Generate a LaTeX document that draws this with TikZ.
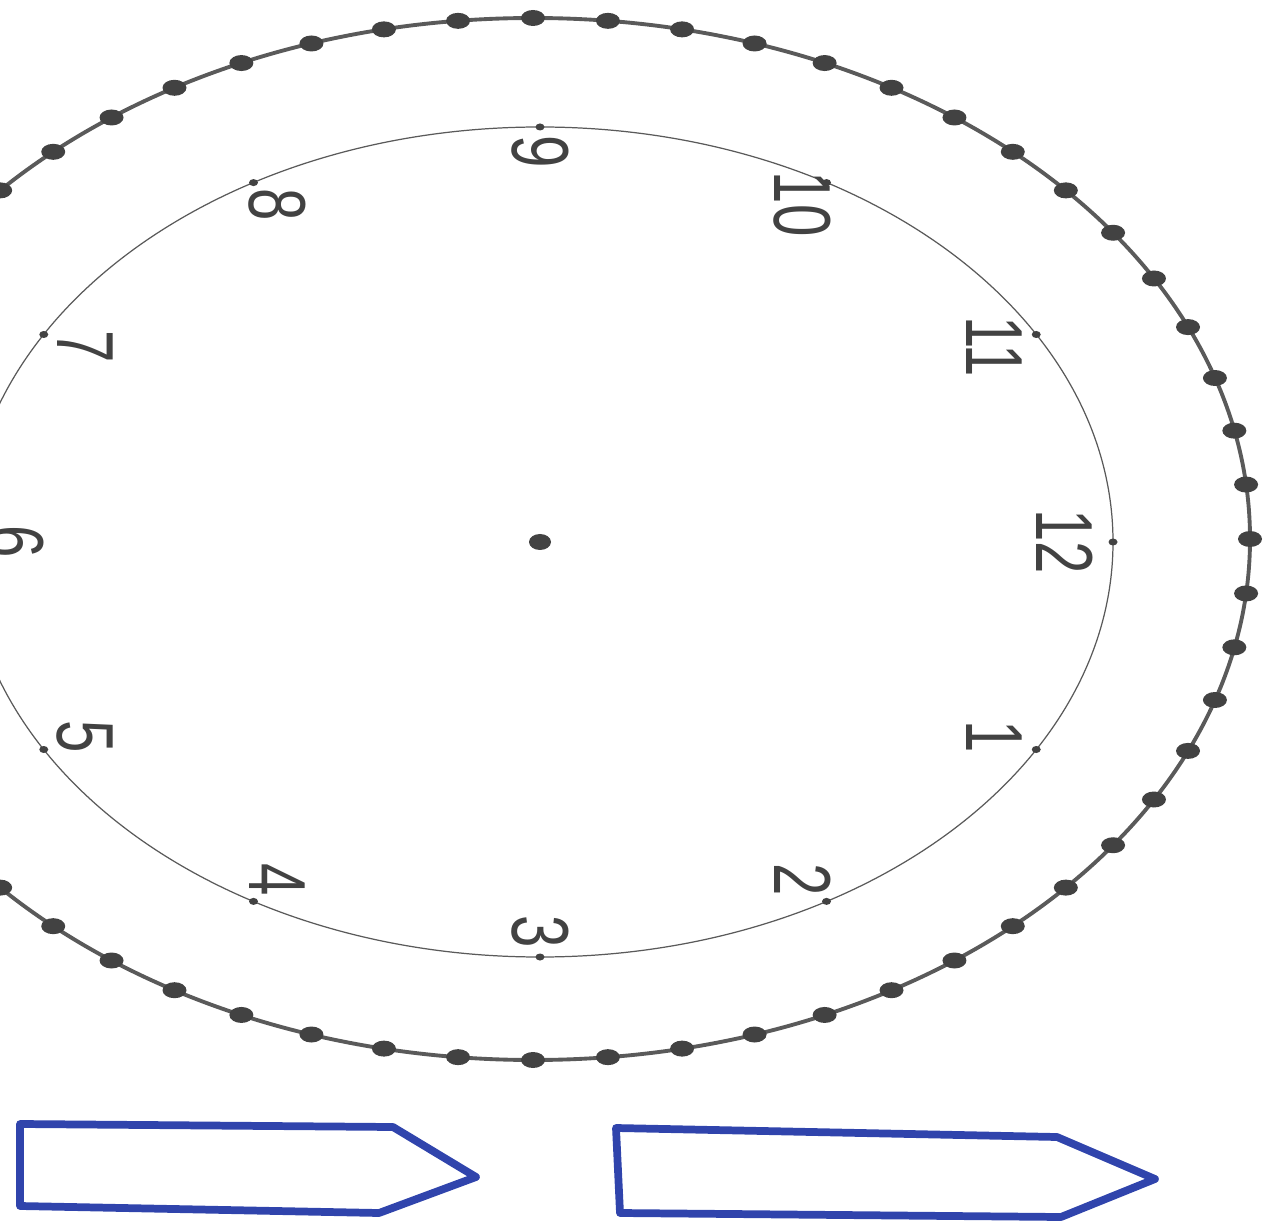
\documentclass[tikz,border=0pt]{standalone}
\usepackage{fontspec}
\newfontfamily\clockfont{Liberation Sans}
\definecolor{inkgray}{RGB}{66,66,66}
\definecolor{ringgray}{RGB}{90,90,90}
\definecolor{penblue}{RGB}{48,68,172}
\begin{document}
\begin{tikzpicture}[x=0.01cm,y=-0.01cm,
  ringline/.style={draw=ringgray,line width=1.1pt},
  faceline/.style={draw=ringgray,line width=0.35pt},
  minutedot/.style={fill=inkgray},
  hourdot/.style={fill=inkgray},
  hournum/.style={inner sep=0pt,rotate=-90,text=inkgray,font=\clockfont\fontsize{23}{23}\selectfont},
  pencil/.style={draw=penblue,line width=2.2pt,line join=round}]
 \useasboundingbox (0,0) rectangle (1273,1222);
 \clip (0,0) rectangle (1273,1222);
 % outer ring with the minute dots
 \draw[ringline] (533,539) ellipse [x radius=717, y radius=521];
 \foreach \m in {0,...,59}
  \fill[minutedot] ({533+717*cos(6*\m)},{539-521*sin(6*\m)}) ellipse [x radius=12, y radius=8];
 % clock face
 \draw[faceline] (540,542) ellipse [x radius=573, y radius=415];
 \foreach \h in {1,...,12} {
  \fill[hourdot] ({540+573*cos(-30*\h)},{542-415*sin(-30*\h)}) ellipse [x radius=4.5, y radius=3.5];
  \node[hournum] (n\h) at ({540+525*cos(-30*\h)},{542-390*sin(-30*\h)}) {\scalebox{0.72}[1]{\h}};
 }
 \fill[inkgray] (540,542) ellipse [x radius=11, y radius=8];
 % the two hands to cut out
 \draw[pencil] (20,1124) -- (393,1127) -- (476,1177) -- (379,1213) -- (20,1206) -- cycle;
 \draw[pencil] (616,1128) -- (1057,1137) -- (1155,1179) -- (1061,1217) -- (620,1213) -- cycle;
\end{tikzpicture}
\end{document}
